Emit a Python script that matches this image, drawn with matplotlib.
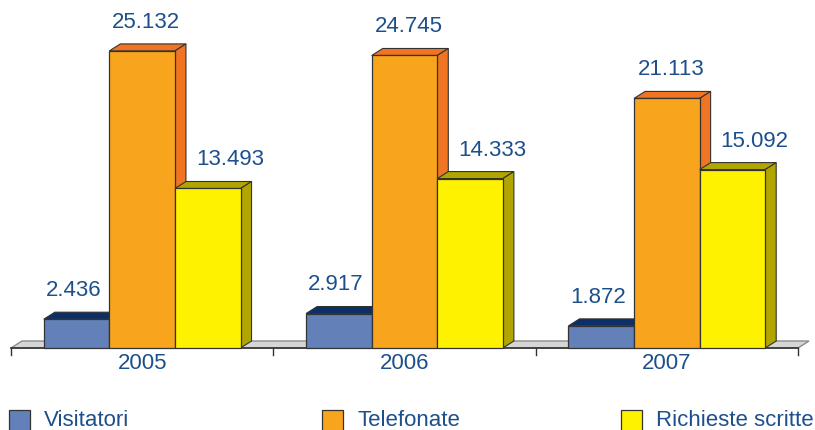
import matplotlib.pyplot as plt
from matplotlib.patches import Polygon, Rectangle

plt.rcParams['font.family'] = ['Liberation Sans', 'DejaVu Sans']

years = ["2005", "2006", "2007"]
series = ["Visitatori", "Telefonate", "Richieste scritte"]
visitatori = [2436, 2917, 1872]
telefonate = [25132, 24745, 21113]
richieste = [13493, 14333, 15092]
values = [visitatori, telefonate, richieste]

front_colors = ["#6480b8", "#f8a51d", "#fff200"]
top_colors = ["#0b2f66", "#f07422", "#b3a500"]
side_colors = ["#0b2f66", "#f07422", "#b3a500"]
label_shift = [-6, -1, 12]   # horizontal nudge of value labels, in points
text_color = "#1c4f8c"

fig = plt.figure(figsize=(8.15, 4.3), dpi=100)
ax = fig.add_axes([11 / 815, 82 / 430, 787 / 815, 331 / 430])
ax.set_xlim(-0.5, 2.5)
ax.set_ylim(0, 28000)
ax.axis("off")

width = 0.25
dx = 11 / 262.3           # depth in category units
dy = 7 / 0.01183          # depth in value units

# floor
x0, x1 = -0.5, 2.5
ax.add_patch(Polygon([(x0, 0), (x1, 0), (x1 + dx, dy), (x0 + dx, dy)],
                     closed=True, facecolor="#d6d6d6", edgecolor="#8c8c8c",
                     lw=1, zorder=1, clip_on=False))
ax.plot([x0, x1], [0, 0], color="#333333", lw=1.2, zorder=2, clip_on=False)
for xt in [-0.5, 0.5, 1.5, 2.5]:
    ax.plot([xt, xt], [0, -7 / 0.01183], color="#333333", lw=1, zorder=2,
            clip_on=False)

z = 3
for g, year in enumerate(years):
    for s in range(len(series)):
        v = values[s][g]
        left = g + (s - 1.5) * width
        right = left + width
        top = Polygon([(left, v), (right, v), (right + dx, v + dy), (left + dx, v + dy)],
                      closed=True, facecolor=top_colors[s], edgecolor="#333333",
                      lw=0.8, zorder=z, clip_on=False)
        side = Polygon([(right, 0), (right + dx, dy), (right + dx, v + dy), (right, v)],
                       closed=True, facecolor=side_colors[s], edgecolor="#333333",
                       lw=0.8, zorder=z, clip_on=False)
        front = Rectangle((left, 0), width, v, facecolor=front_colors[s],
                          edgecolor="#333333", lw=0.9, zorder=z + 1, clip_on=False)
        ax.add_patch(top)
        ax.add_patch(side)
        ax.add_patch(front)
        z += 2
        label = f"{v:,}".replace(",", ".")
        ax.annotate(label, (left + width / 2 + dx / 2, v + dy),
                    xytext=(label_shift[s], 15.5), textcoords="offset points",
                    ha="center", va="center", fontsize=16, color=text_color,
                    zorder=50)
    ax.annotate(year, (g, 0), xytext=(0, -11), textcoords="offset points",
                ha="center", va="center", fontsize=16, color=text_color)

# legend
legend_x = [9, 322, 621]
for s, name in enumerate(series):
    fig.patches.append(Rectangle((legend_x[s] / 815, -3 / 430), 21 / 815, 23 / 430,
                                 transform=fig.transFigure, facecolor=front_colors[s],
                                 edgecolor="#333333", lw=0.9))
    fig.text((legend_x[s] + 35) / 815, 10 / 430, name, ha="left", va="center",
             fontsize=16, color=text_color)

plt.savefig("out.png", dpi=100)
